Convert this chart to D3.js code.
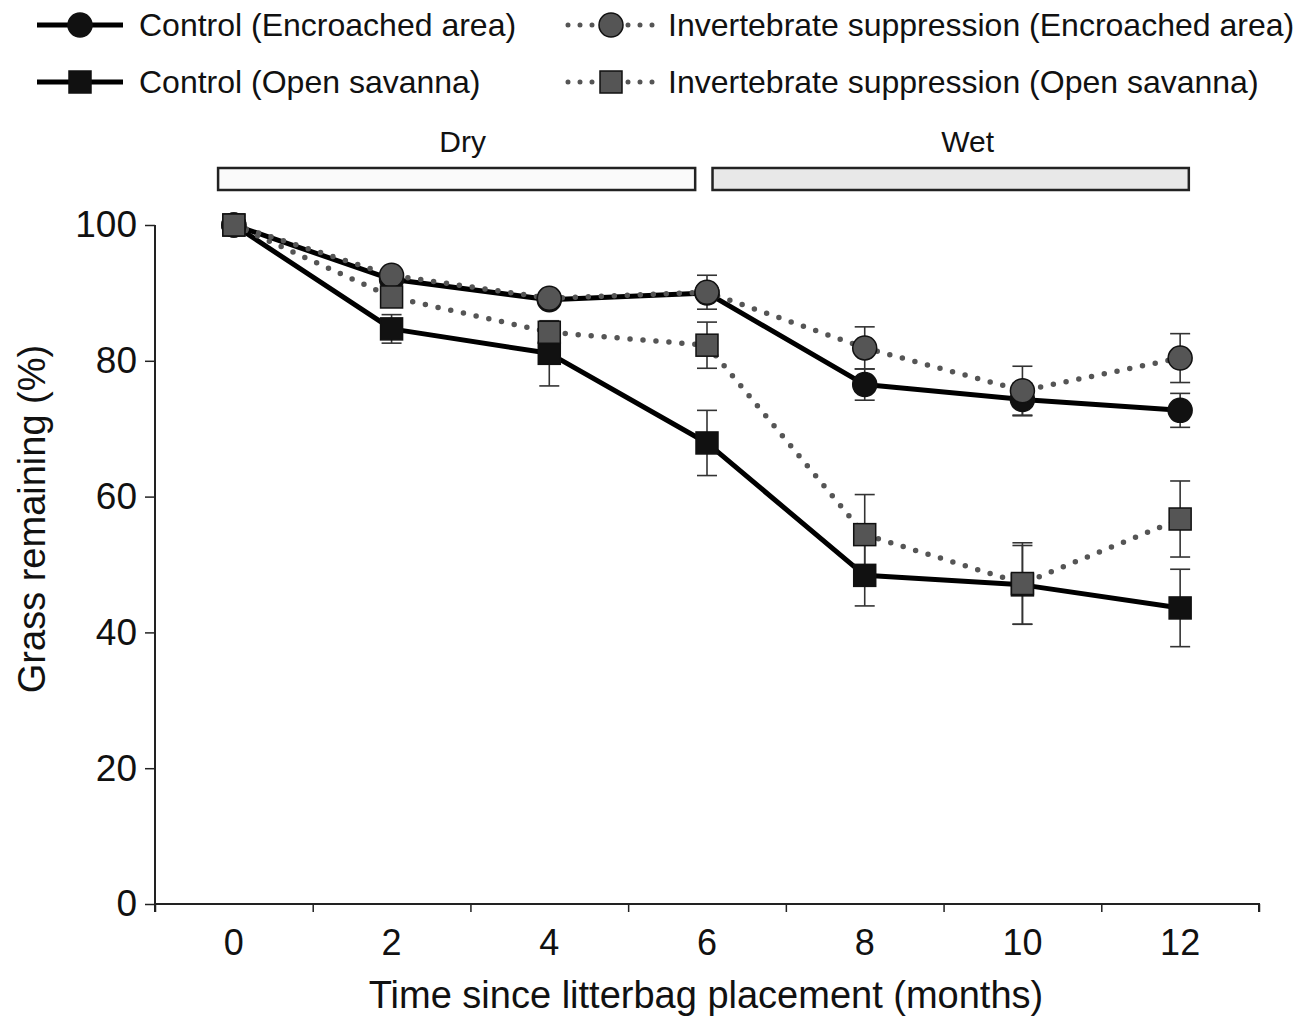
<!DOCTYPE html>
<html><head><meta charset="utf-8">
<script src="https://cdn.jsdelivr.net/npm/d3@7"></script>
<style>body{margin:0;background:#fff}svg{display:block;font-family:"Liberation Sans",Arial,sans-serif}</style>
</head><body><svg id="c" width="1295" height="1017"></svg>
<script>
const months = [0, 2, 4, 6, 8, 10, 12];
const ctrlEnc  = [100, 92.0, 89.0, 90.0, 76.5, 74.3, 72.7];
const ctrlEncSE = [0, 0.5, 0.5, 1.0, 2.3, 2.4, 2.5];
const isEnc    = [100, 92.6, 89.2, 90.1, 81.9, 75.6, 80.4];
const isEncSE  = [0, 0.5, 0.5, 2.5, 3.1, 3.6, 3.6];
const ctrlOpen = [100, 84.7, 81.1, 67.9, 48.4, 47.0, 43.6];
const ctrlOpenSE = [0, 2.1, 4.8, 4.8, 4.5, 5.8, 5.7];
const isOpen   = [100, 89.4, 84.2, 82.3, 54.4, 47.2, 56.7];
const isOpenSE = [0, 1.0, 1.0, 3.4, 5.9, 6.0, 5.6];
const yTicks = [0, 20, 40, 60, 80, 100];
const xTickMarks = [-1, 1, 3, 5, 7, 9, 11, 13];
const seasons = [{label: "Dry", from: -0.2, to: 5.85, fill: "#fafafa"}, {label: "Wet", from: 6.07, to: 12.11, fill: "#e8e8e8"}];
const legendNames = ["Control (Encroached area)", "Control (Open savanna)", "Invertebrate suppression (Encroached area)", "Invertebrate suppression (Open savanna)"];

const svg = d3.select("#c");
const x = d3.scaleLinear().domain([-1, 13]).range([155, 1259]);
const y = d3.scaleLinear().domain([0, 100]).range([904, 225]);

// axes
const yAxis = svg.append("g").attr("transform", "translate(155,0)")
  .call(d3.axisLeft(y).tickValues(yTicks).tickSize(10).tickPadding(8));
yAxis.select(".domain").attr("stroke", "#222").attr("stroke-width", 2).attr("d", `M0,${y(100)}V${y(0)}`);
yAxis.selectAll(".tick line").attr("stroke", "#222").attr("stroke-width", 1.5);
yAxis.selectAll(".tick text").attr("font-size", 37).attr("fill", "#111").attr("font-family", "Liberation Sans, Arial");

const xAxis = svg.append("g").attr("transform", `translate(0,${y(0)})`)
  .call(d3.axisBottom(x).tickValues(xTickMarks).tickSize(8).tickFormat(""));
xAxis.select(".domain").attr("stroke", "#222").attr("stroke-width", 2).attr("d", `M${x(-1)},8V0H${x(13)}V8`);
xAxis.selectAll(".tick line").attr("stroke", "#222").attr("stroke-width", 1.5);
svg.append("g").selectAll("text").data(months).join("text")
  .attr("x", d => x(d)).attr("y", 955).attr("text-anchor", "middle")
  .attr("font-size", 36).attr("fill", "#111").text(d => d);

svg.append("text").attr("x", 706).attr("y", 1008).attr("text-anchor", "middle")
  .attr("font-size", 38).attr("fill", "#111").text("Time since litterbag placement (months)");
svg.append("text").attr("transform", "translate(45,519) rotate(-90)").attr("text-anchor", "middle")
  .attr("font-size", 38).attr("fill", "#111").text("Grass remaining (%)");

// season bars
const labelShift = {Dry: 6, Wet: 17};
const sg = svg.append("g").selectAll("g").data(seasons).join("g");
sg.append("rect").attr("x", d => x(d.from)).attr("width", d => x(d.to) - x(d.from))
  .attr("y", 168).attr("height", 22).attr("fill", d => d.fill).attr("stroke", "#222").attr("stroke-width", 2.5);
sg.append("text").attr("x", d => (x(d.from) + x(d.to)) / 2 + labelShift[d.label]).attr("y", 152).attr("text-anchor", "middle")
  .attr("font-size", 30).attr("fill", "#111").text(d => d.label);

const series = [
  {vals: ctrlEnc, se: ctrlEncSE, dotted: false, shape: "circle", fill: "#111"},
  {vals: ctrlOpen, se: ctrlOpenSE, dotted: false, shape: "square", fill: "#111"},
  {vals: isEnc, se: isEncSE, dotted: true, shape: "circle", fill: "#555"},
  {vals: isOpen, se: isOpenSE, dotted: true, shape: "square", fill: "#555"}
];
const line = d3.line().x((d, i) => x(months[i])).y(d => y(d));

// error bars
series.forEach(s => {
  const g = svg.append("g").attr("stroke", "#333").attr("stroke-width", 1.6);
  const pts = s.vals.map((v, i) => ({m: months[i], v, e: s.se[i]})).filter(p => p.e > 0);
  g.selectAll("line.v").data(pts).join("line").attr("x1", p => x(p.m)).attr("x2", p => x(p.m))
    .attr("y1", p => y(p.v + p.e)).attr("y2", p => y(p.v - p.e));
  g.selectAll("line.t").data(pts).join("line").attr("x1", p => x(p.m) - 10).attr("x2", p => x(p.m) + 10)
    .attr("y1", p => y(p.v + p.e)).attr("y2", p => y(p.v + p.e));
  g.selectAll("line.b").data(pts).join("line").attr("x1", p => x(p.m) - 10).attr("x2", p => x(p.m) + 10)
    .attr("y1", p => y(p.v - p.e)).attr("y2", p => y(p.v - p.e));
});

// lines
series.forEach(s => {
  const p = svg.append("path").attr("d", line(s.vals)).attr("fill", "none");
  if (s.dotted) p.attr("stroke", "#555").attr("stroke-width", 5.5).attr("stroke-linecap", "round").attr("stroke-dasharray", "0,13");
  else p.attr("stroke", "#000").attr("stroke-width", 5).attr("stroke-linejoin", "round");
});

function marker(g, shape, fill, cx, cy) {
  if (shape === "circle") g.append("circle").attr("cx", cx).attr("cy", cy).attr("r", 12)
    .attr("fill", fill).attr("stroke", "#111").attr("stroke-width", 1.5);
  else g.append("rect").attr("x", cx - 11).attr("y", cy - 11).attr("width", 22).attr("height", 22)
    .attr("fill", fill).attr("stroke", "#111").attr("stroke-width", 1.5);
}
series.forEach(s => {
  const g = svg.append("g");
  s.vals.forEach((v, i) => marker(g, s.shape, s.fill, x(months[i]), y(v)));
});

// legend
const legPos = [{x: 37, y: 25}, {x: 37, y: 82}, {x: 568, y: 25}, {x: 568, y: 82}];
series.forEach((s, i) => {
  const p = legPos[i];
  const g = svg.append("g");
  const l = g.append("line").attr("x1", p.x).attr("x2", p.x + 86).attr("y1", p.y).attr("y2", p.y);
  if (s.dotted) l.attr("stroke", "#555").attr("stroke-width", 5).attr("stroke-linecap", "round").attr("stroke-dasharray", "0,12");
  else l.attr("stroke", "#000").attr("stroke-width", 5);
  marker(g, s.shape, s.fill, p.x + 43, p.y);
  g.append("text").attr("x", p.x + (s.dotted ? 100 : 102)).attr("y", p.y + 11).attr("font-size", 32).attr("fill", "#111").text(legendNames[i]);
});
</script></body></html>
